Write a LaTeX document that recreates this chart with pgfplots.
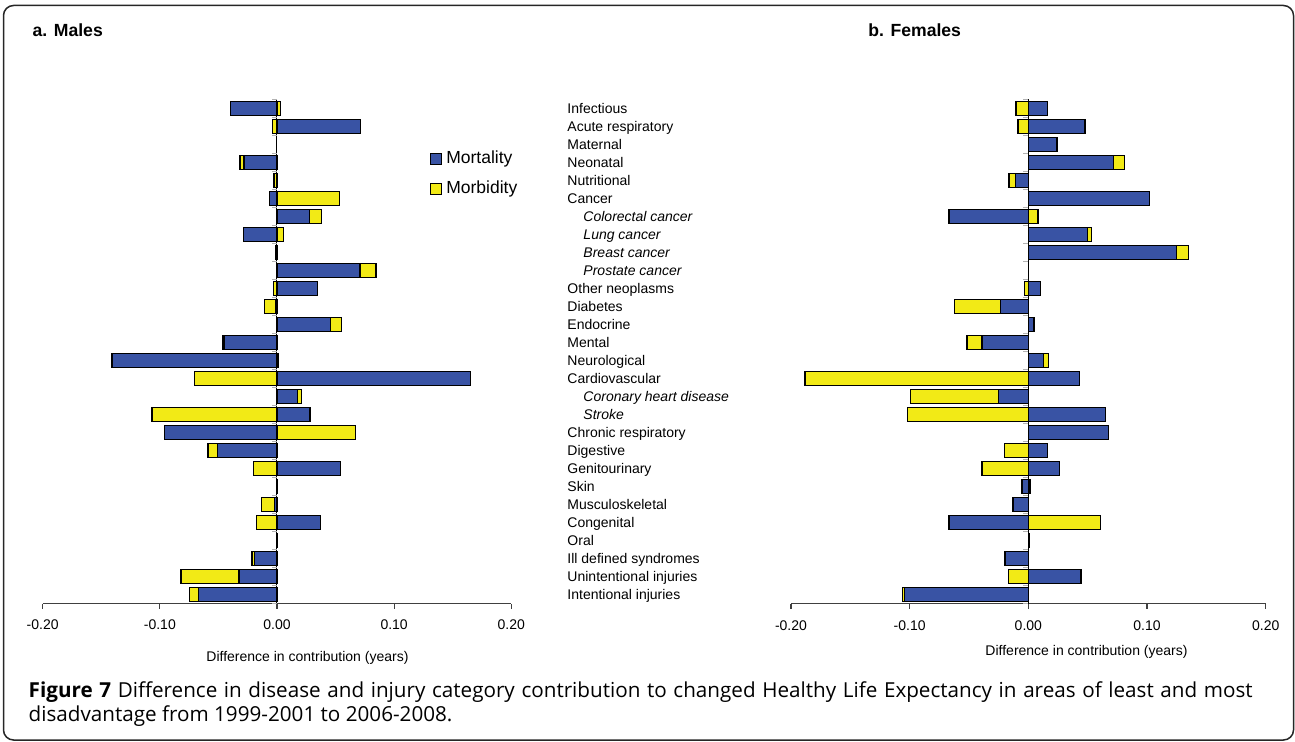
\documentclass[border=0pt]{standalone}
\usepackage{pgfplots}
\pgfplotsset{compat=1.18}
\usepackage{pgfplotstable}
\usepackage{fontspec}
\setmainfont{Liberation Sans}
\newfontfamily\capfont{Open Sans}

\definecolor{mortblue}{RGB}{57,83,164}
\definecolor{morbyellow}{RGB}{242,234,22}
\definecolor{axisgray}{RGB}{64,64,64}

\newcommand{\subcat}[1]{\hspace*{8pt}\textit{#1}}
\newcommand{\capone}{\textbf{Figure 7} Difference in disease and injury category contribution to changed Healthy Life Expectancy in areas of least and most}
\newcommand{\captwo}{disadvantage from 1999-2001 to 2006-2008.}
\newlength\capw

% row: 28 = Infectious (top) ... 1 = Intentional injuries (bottom)
% mort = mortality contribution
% morbend = outer end of the morbidity bar (stacked on mortality when
%           both have the same sign, otherwise drawn from zero)
\pgfplotstableread{
row mort morbend
28 -0.0395  0.0030
27  0.0714 -0.0040
26  nan     nan
25 -0.0280 -0.0315
24 -0.0005 -0.0025
23 -0.0065  0.0532
22  0.0276  0.0381
21 -0.0284  0.0057
20 -0.0015  nan
19  0.0708  0.0844
18  0.0347 -0.0030
17 -0.0014 -0.0108
16  0.0458  0.0552
15 -0.0452 -0.0466
14 -0.1407  0.0012
13  0.1650 -0.0705
12  0.0176  0.0210
11  0.0281 -0.1066
10 -0.0961  0.0668
9  -0.0509 -0.0589
8   0.0540 -0.0202
7   0.0003  nan
6  -0.0023 -0.0133
5   0.0370 -0.0173
4   0.0004  nan
3  -0.0193 -0.0215
2  -0.0324 -0.0819
1  -0.0671 -0.0745
}\males

\pgfplotstableread{
row mort morbend
28  0.0160 -0.0104
27  0.0478 -0.0087
26  0.0242  nan
25  0.0716  0.0809
24 -0.0107 -0.0163
23  0.1020  nan
22 -0.0669  0.0081
21  0.0497  0.0531
20  0.1250  0.1348
19  nan     nan
18  0.0101 -0.0034
17 -0.0236 -0.0624
16  0.0048  nan
15 -0.0390 -0.0516
14  0.0129  0.0168
13  0.0430 -0.1882
12 -0.0253 -0.0995
11  0.0649 -0.1017
10  0.0677  nan
9   0.0160 -0.0202
8   0.0264 -0.0390
7  -0.0053  0.0014
6  -0.0129  nan
5  -0.0669  0.0607
4   0.0004  nan
3  -0.0197  nan
2   0.0444 -0.0169
1  -0.1045 -0.1059
}\females

\pgfplotsset{
  panel/.style={
    scale only axis,
    height=252pt,
    xmin=-0.2, xmax=0.2, ymin=0.5, ymax=28.5,
    axis x line*=bottom, axis y line*=left,
    y axis line style={draw=none}, ytick style={draw=none},
    x axis line style={axisgray, line width=0.6pt},
    xtick={-0.2,-0.1,0,0.1,0.2},
    xticklabels={-0.20,-0.10,0.00,0.10,0.20},
    xtick align=outside, major tick length=2.5pt,
    xtick style={axisgray, line width=0.6pt},
    tick label style={font=\fontsize{7}{8}\selectfont},
    xticklabel style={yshift=-2pt},
    xlabel={Difference in contribution (years)},
    xlabel style={font=\fontsize{7}{8}\selectfont, anchor=center},
    xbar, bar width=7pt, bar shift=0pt,
    every axis plot/.append style={draw=black, line width=0.7pt},
    clip=false,
  },
}

\begin{document}
% caption: size chosen so that the first line fills about 600pt
\settowidth\capw{\capfont\fontsize{10}{12}\selectfont\capone}%
\pgfmathsetmacro\capsize{10*600/\capw}%
\begin{tikzpicture}
\path[use as bounding box] (0pt,0pt) rectangle (647.5pt,-371pt);
\draw[line width=0.75pt, rounded corners=5pt, black!85] (1.75pt,-2.75pt) rectangle (646.75pt,-370pt);

\node[anchor=west, inner sep=0pt, font=\bfseries\fontsize{8.8}{10}\selectfont] at (16.15pt,-15.25pt) {a. Males};
\node[anchor=west, inner sep=0pt, font=\bfseries\fontsize{8.8}{10}\selectfont] at (434pt,-15.25pt) {b. Females};

% males
\begin{axis}[panel,
  at={(21.35pt,-301.75pt)}, anchor=south west, width=234.3pt,
  ytick=\empty,
  xlabel style={at={(axis description cs:0.565,0)}, yshift=-27.25pt},
  legend style={at={(axis description cs:0.826,0.906)}, anchor=north west,
    draw=none, fill=none, inner sep=0pt, row sep=3pt,
    font=\fontsize{8.75}{9}\selectfont},
  legend cell align=left,
  legend image code/.code={\draw[#1, line width=0.6pt] (0pt,-2.75pt) rectangle (5.5pt,2.75pt);},
]
\addplot[fill=morbyellow, forget plot] table[x=morbend, y=row] {\males};
\addplot[fill=mortblue, forget plot] table[x=mort, y=row] {\males};
\draw[black, line width=0.5pt] (axis cs:0,0.5) -- (axis cs:0,28.5);
\pgfplotsinvokeforeach{0.5,1.5,...,28.5}{\draw[gray!60, line width=0.5pt] (axis cs:0,#1) -- ++(-2.5pt,0pt);}
\addlegendimage{fill=mortblue, draw=black}
\addlegendentry{Mortality}
\addlegendimage{fill=morbyellow, draw=black}
\addlegendentry{Morbidity}
\end{axis}

% females
\begin{axis}[panel,
  at={(395.5pt,-301.75pt)}, anchor=south west, width=237.35pt,
  xlabel style={at={(axis description cs:0.6225,0)}, yshift=-24.25pt},
  ytick={1,...,28},
  yticklabels={Intentional injuries, Unintentional injuries, Ill defined syndromes,
    Oral, Congenital, Musculoskeletal, Skin, Genitourinary, Digestive,
    Chronic respiratory, \subcat{Stroke}, \subcat{Coronary heart disease},
    Cardiovascular, Neurological, Mental, Endocrine, Diabetes, Other neoplasms,
    \subcat{Prostate cancer}, \subcat{Breast cancer}, \subcat{Lung cancer},
    \subcat{Colorectal cancer}, Cancer, Nutritional, Neonatal, Maternal,
    Acute respiratory, Infectious},
  typeset ticklabels with strut,
  yticklabel style={anchor=west, xshift=-112.8pt, yshift=-1pt},
]
\addplot[fill=morbyellow] table[x=morbend, y=row] {\females};
\addplot[fill=mortblue] table[x=mort, y=row] {\females};
\draw[black, line width=0.5pt] (axis cs:0,0.5) -- (axis cs:0,28.5);
\pgfplotsinvokeforeach{0.5,1.5,...,28.5}{\draw[gray!60, line width=0.5pt] (axis cs:0,#1) -- ++(-2.5pt,0pt);}
\end{axis}

\node[anchor=base west, inner sep=0pt, font=\capfont\fontsize{\capsize}{12}\selectfont]
  at (14.15pt,-348.5pt) {\makebox[612pt][s]{\capone}};
\node[anchor=base west, inner sep=0pt, font=\capfont\fontsize{\capsize}{12}\selectfont]
  at (14.15pt,-360.5pt) {\captwo};
\end{tikzpicture}
\end{document}
